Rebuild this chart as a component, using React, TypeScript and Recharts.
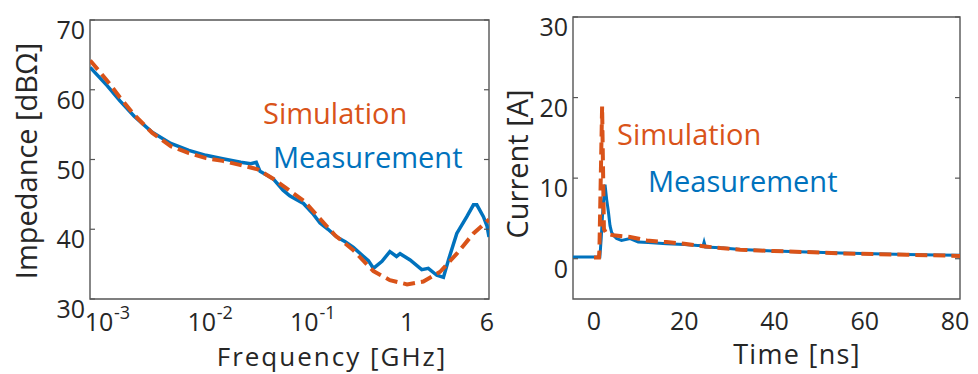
import React from "react";
import { LineChart, Line, XAxis, YAxis, ReferenceArea } from "recharts";

// ---------- Left panel: impedance vs frequency ----------
const freqTicks = [0.001, 0.01, 0.1, 1, 6];
const freqTickBase = ["10", "10", "10", "1", "6"];
const freqTickExp = ["-3", "-2", "-1", "", ""];
const impTicks = [30, 40, 50, 60, 70];

const measFreq = [0.00082, 0.0012, 0.0016, 0.0022, 0.0033, 0.005, 0.0075, 0.011, 0.016, 0.024, 0.03, 0.034, 0.037, 0.045, 0.05, 0.062, 0.072, 0.085, 0.098, 0.12, 0.142, 0.17, 0.206, 0.25, 0.3, 0.37, 0.42, 0.47, 0.57, 0.68, 0.79, 0.855, 1.07, 1.39, 1.61, 1.95, 2.26, 2.53, 3.05, 3.82, 4.43, 4.78, 5.54, 6.0, 6.28];
const measImp = [63.2, 60.6, 58.4, 56.2, 53.9, 52.3, 51.3, 50.6, 50.1, 49.6, 49.4, 49.6, 48.3, 47.6, 47.2, 45.6, 44.8, 44.2, 43.7, 42.3, 40.9, 40.0, 38.9, 38.2, 37.4, 36.2, 35.5, 34.4, 35.4, 36.8, 36.1, 36.5, 35.6, 34.2, 34.4, 33.4, 33.1, 35.6, 39.4, 41.8, 43.5, 43.5, 41.8, 40.5, 38.9];

const simFreq = [0.00082, 0.0012, 0.0016, 0.0022, 0.0033, 0.005, 0.0075, 0.011, 0.016, 0.024, 0.035, 0.05, 0.065, 0.1, 0.14, 0.2, 0.3, 0.47, 0.68, 1.0, 1.44, 2.1, 3.05, 4.43, 6.28];
const simImp = [64.2, 61.3, 58.9, 56.4, 53.8, 51.9, 50.9, 50.2, 49.8, 49.2, 48.6, 47.2, 46.0, 44.0, 41.6, 39.1, 37.0, 34.0, 32.7, 32.1, 32.5, 33.9, 36.5, 39.4, 41.4];

// ---------- Right panel: current vs time ----------
const timeTicks = [0, 20, 40, 60, 80];
const curTicks = [0, 10, 20, 30];

const measTime = [-4.65, 1.3, 1.6, 2.0, 2.45, 2.8, 3.2, 3.55, 3.9, 4.3, 5.0, 6.1, 8.0, 9.8, 12, 16.1, 20, 23, 24.2, 24.4, 24.7, 28, 32.4, 39.8, 47.2, 54.5, 61.9, 69.3, 76, 81.1];
const measCur = [0.2, 0.2, 2.5, 6.5, 9.2, 7.4, 5.8, 4.1, 3.3, 2.9, 2.5, 2.26, 2.5, 2.06, 2.0, 1.85, 1.75, 1.65, 1.64, 2.06, 1.45, 1.35, 1.13, 0.97, 0.84, 0.7, 0.62, 0.53, 0.47, 0.43];

const simTime = [0, 1.1, 1.2, 1.8, 2.2, 2.8, 4.3, 8.0, 11.7, 16.1, 20, 24.2, 28, 32.4, 39.8, 47.2, 54.5, 61.9, 69.3, 81.1];
const simCur = [0.15, 0.15, 1.0, 18.9, 3.7, 3.1, 2.9, 2.7, 2.26, 2.06, 1.85, 1.55, 1.32, 1.11, 0.95, 0.82, 0.66, 0.58, 0.49, 0.35];

const measImpData = measFreq.map((f, i) => ({ x: f, y: measImp[i] }));
const simImpData = simFreq.map((f, i) => ({ x: f, y: simImp[i] }));
const measCurData = measTime.map((t, i) => ({ x: t, y: measCur[i] }));
const simCurData = simTime.map((t, i) => ({ x: t, y: simCur[i] }));

const BLUE = "#0072BD";
const ORANGE = "#D95319";
const TEXT = "#262626";
const FONT = "'Open Sans', sans-serif";

const makeYTick = (plotRight: number) => (props: any) => {
  const { x, y, payload } = props;
  const axisX = x + 5;
  return (
    <g>
      <text x={x} y={y + 9} textAnchor="end" dominantBaseline="central" fontSize={25} fill={TEXT} fontFamily={FONT}>
        {payload.value}
      </text>
      <line x1={axisX} x2={axisX + 5} y1={y} y2={y} stroke="#555" strokeWidth={1.2} />
      <line x1={plotRight - 5} x2={plotRight} y1={y} y2={y} stroke="#555" strokeWidth={1.2} />
    </g>
  );
};

const FreqTick = (props: any) => {
  const { x, y, payload } = props;
  const idx = freqTicks.findIndex((v) => Math.abs(v - payload.value) < 1e-9);
  const base = idx >= 0 ? freqTickBase[idx] : String(payload.value);
  const exp = idx >= 0 ? freqTickExp[idx] : "";
  return (
    <g>
      <text x={x} y={y + 32} textAnchor="middle" fontSize={25} fill={TEXT} fontFamily={FONT}>
        {base}
      </text>
      {exp ? (
        <text x={x + 15} y={y + 20} textAnchor="start" fontSize={18} fill={TEXT} fontFamily={FONT}>
          {exp}
        </text>
      ) : null}
    </g>
  );
};

const TimeTick = (props: any) => {
  const { x, y, payload } = props;
  return (
    <text x={x} y={y + 31} textAnchor="middle" fontSize={25} fill={TEXT} fontFamily={FONT}>
      {payload.value}
    </text>
  );
};

export default function App() {
  return (
    <div style={{ position: "absolute", left: 0, top: 0, width: 978, height: 374, background: "#fff" }}>
      <div style={{ position: "absolute", left: 0, top: 0 }}>
        <LineChart width={500} height={374} margin={{ top: 20, right: 11, bottom: 0, left: 0 }}>
          <XAxis
            dataKey="x"
            type="number"
            scale="log"
            domain={[0.000817, 6.28]}
            allowDataOverflow
            ticks={freqTicks}
            tick={FreqTick}
            tickSize={0}
            tickMargin={0}
            axisLine={false}
            height={75}
            interval={0}
          />
          <YAxis
            type="number"
            domain={[30, 70]}
            ticks={impTicks}
            tick={makeYTick(489)}
            tickSize={0}
            tickMargin={5}
            axisLine={false}
            width={90}
            interval={0}
          />
          <Line data={measImpData} dataKey="y" stroke={BLUE} strokeWidth={3.5} dot={false} isAnimationActive={false} type="linear" />
          <Line data={simImpData} dataKey="y" stroke={ORANGE} strokeWidth={4} strokeDasharray="12 6" dot={false} isAnimationActive={false} type="linear" />
          <ReferenceArea x1={0.000817} x2={6.28} y1={30} y2={70} fill="none" stroke="#555" strokeWidth={1.4} ifOverflow="visible" />
        </LineChart>
      </div>
      <div style={{ position: "absolute", left: 500, top: 0 }}>
        <LineChart width={478} height={374} margin={{ top: 17, right: 18, bottom: 0, left: 0 }}>
          <XAxis
            dataKey="x"
            type="number"
            domain={[-4.65, 81.1]}
            allowDataOverflow
            ticks={timeTicks}
            tick={TimeTick}
            tickSize={0}
            tickMargin={0}
            axisLine={false}
            height={75}
            interval={0}
          />
          <YAxis
            type="number"
            domain={[-5, 30]}
            ticks={curTicks}
            tick={makeYTick(460)}
            tickSize={0}
            tickMargin={5}
            axisLine={false}
            width={73}
            interval={0}
          />
          <Line data={measCurData} dataKey="y" stroke={BLUE} strokeWidth={3} dot={false} isAnimationActive={false} type="linear" />
          <Line data={simCurData} dataKey="y" stroke={ORANGE} strokeWidth={4} strokeDasharray="12 6" dot={false} isAnimationActive={false} type="linear" />
          <ReferenceArea x1={-4.65} x2={81.1} y1={-5} y2={30} fill="none" stroke="#555" strokeWidth={1.4} ifOverflow="visible" />
        </LineChart>
      </div>
      <svg width={978} height={374} style={{ position: "absolute", left: 0, top: 0, pointerEvents: "none" }} fontFamily={FONT}>
        <text x={263} y={124} fontSize={29} fill={ORANGE}>Simulation</text>
        <text x={273} y={168} fontSize={29} fill={BLUE}>Measurement</text>
        <text x={617} y={145} fontSize={29} fill={ORANGE}>Simulation</text>
        <text x={648} y={192} fontSize={29} fill={BLUE}>Measurement</text>
        <text x={332} y={366} fontSize={26} letterSpacing={2} fill={TEXT} textAnchor="middle">Frequency [GHz]</text>
        <text x={797} y={364} fontSize={27} letterSpacing={1.3} fill={TEXT} textAnchor="middle">Time [ns]</text>
        <text transform="translate(37,161) rotate(-90)" fontSize={29} fill={TEXT} textAnchor="middle">Impedance [dBΩ]</text>
        <text transform="translate(528,164) rotate(-90)" fontSize={29} fill={TEXT} textAnchor="middle">Current [A]</text>
      </svg>
    </div>
  );
}
